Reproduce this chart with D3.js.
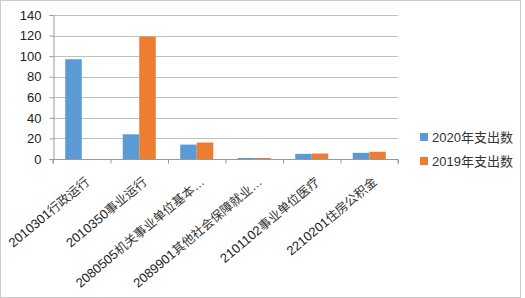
<!DOCTYPE html>
<html>
<head>
<meta charset="utf-8">
<script src="https://cdn.jsdelivr.net/npm/d3@7"></script>
<style>
  body { margin: 0; background: #fff; }
  svg { display: block; font-family: "Liberation Sans", "Noto Sans CJK SC", sans-serif; }
</style>
</head>
<body>
<svg id="chart" width="525" height="298"></svg>
<script>
var svg = d3.select("#chart");

var width = +svg.attr("width");
var height = +svg.attr("height");

// data
var codes = ["2010301", "2010350", "2080505", "2089901", "2101102", "2210201"];
var names = ["行政运行", "事业运行", "机关事业单位基本…", "其他社会保障就业…", "事业单位医疗", "住房公积金"];
var series = ["2020年支出数", "2019年支出数"];
var values2020 = [97, 24, 14, 1, 5, 6];
var values2019 = [0, 119, 16, 1, 5.3, 7];
var yTicks = [0, 20, 40, 60, 80, 100, 120, 140];
var colors = ["#5b9bd5", "#ed7d31"];

var categories = codes.map((c, i) => c + names[i]);

// plot area
var plotLeft = 53, plotRight = 398, plotTop = 15, plotBottom = 159;

var x = d3.scaleBand()
  .domain(categories)
  .range([plotLeft, plotRight])
  .paddingInner(0)
  .paddingOuter(0);

var xInner = d3.scaleBand()
  .domain(series)
  .range([0, x.bandwidth()])
  .paddingInner(0)
  .paddingOuter(0.74);

var y = d3.scaleLinear()
  .domain([0, 140])
  .range([plotBottom, plotTop]);

// outer frame
svg.append("rect")
  .attr("x", 0.5).attr("y", 0.5)
  .attr("width", width - 5).attr("height", height - 1)
  .attr("fill", "none")
  .attr("stroke", "#999")
  .attr("stroke-dasharray", "1,1");

// gridlines
svg.append("g")
  .selectAll("line")
  .data(yTicks.slice(1))
  .enter().append("line")
  .attr("x1", plotLeft).attr("x2", plotRight)
  .attr("y1", d => Math.round(y(d)) + 0.5)
  .attr("y2", d => Math.round(y(d)) + 0.5)
  .attr("stroke", "#c0c0c0");

// bars
var data = categories.map(function (c, i) {
  return { cat: c, vals: [values2020[i], values2019[i]] };
});

var groups = svg.append("g")
  .selectAll("g")
  .data(data)
  .enter().append("g")
  .attr("transform", d => "translate(" + x(d.cat) + ",0)");

groups.selectAll("rect")
  .data(d => d.vals.map((v, j) => ({ s: series[j], v: v, j: j })))
  .enter().append("rect")
  .filter(d => d.v > 0)
  .attr("x", d => xInner(d.s))
  .attr("y", d => y(d.v))
  .attr("width", xInner.bandwidth())
  .attr("height", d => y(0) - y(d.v))
  .attr("fill", d => colors[d.j]);

// y axis
var leftAxis = d3.axisLeft(y).tickValues(yTicks).tickSize(4).tickPadding(8);
var gy = svg.append("g")
  .attr("transform", "translate(" + (plotLeft + 0.5) + ",0)")
  .call(leftAxis);
gy.select(".domain").attr("stroke", "#999");
gy.selectAll(".tick line").attr("stroke", "#999");
gy.selectAll(".tick text")
  .attr("font-size", 13)
  .attr("fill", "#222")
  .style("font-family", "'Liberation Sans', sans-serif");

// x axis
var bottomAxis = d3.axisBottom(x).tickSize(4).tickFormat("");
var gx = svg.append("g")
  .attr("transform", "translate(0," + (plotBottom + 0.5) + ")")
  .call(bottomAxis);
gx.select(".domain").attr("stroke", "#999").attr("d", "M" + plotLeft + ",4V0H" + plotRight + "V4");
gx.selectAll(".tick").remove();
gx.selectAll(".cattick")
  .data(d3.range(categories.length + 1))
  .enter().append("line")
  .attr("x1", i => plotLeft + i * x.step() + 0.5)
  .attr("x2", i => plotLeft + i * x.step() + 0.5)
  .attr("y1", 0).attr("y2", 4)
  .attr("stroke", "#999");

// rotated category labels (the source image looks a bit stretched, so -40deg)
var labels = svg.append("g")
  .selectAll("text")
  .data(categories)
  .enter().append("text")
  .attr("transform", d => "translate(" + (x(d) + x.bandwidth() / 2 + 5) + "," + (plotBottom + 20) + ")rotate(-40)")
  .attr("text-anchor", "end")
  .attr("dy", "0.35em")
  .attr("fill", "#222");

labels.append("tspan")
  .attr("font-size", 13)
  .text((d, i) => codes[i]);

labels.append("tspan")
  .attr("font-size", 12.5)
  .attr("fill", "#333")
  .text((d, i) => names[i]);

// legend
var legend = svg.append("g")
  .selectAll("g")
  .data(series)
  .enter().append("g")
  .attr("transform", (d, i) => "translate(420," + (133 + i * 24) + ")");

legend.append("rect")
  .attr("width", 8).attr("height", 8)
  .attr("fill", (d, i) => colors[i]);

legend.append("text")
  .attr("x", 12).attr("y", 4)
  .attr("dy", "0.35em")
  .attr("font-size", 13)
  .attr("fill", "#333")
  .text(d => d);
</script>
</body>
</html>
